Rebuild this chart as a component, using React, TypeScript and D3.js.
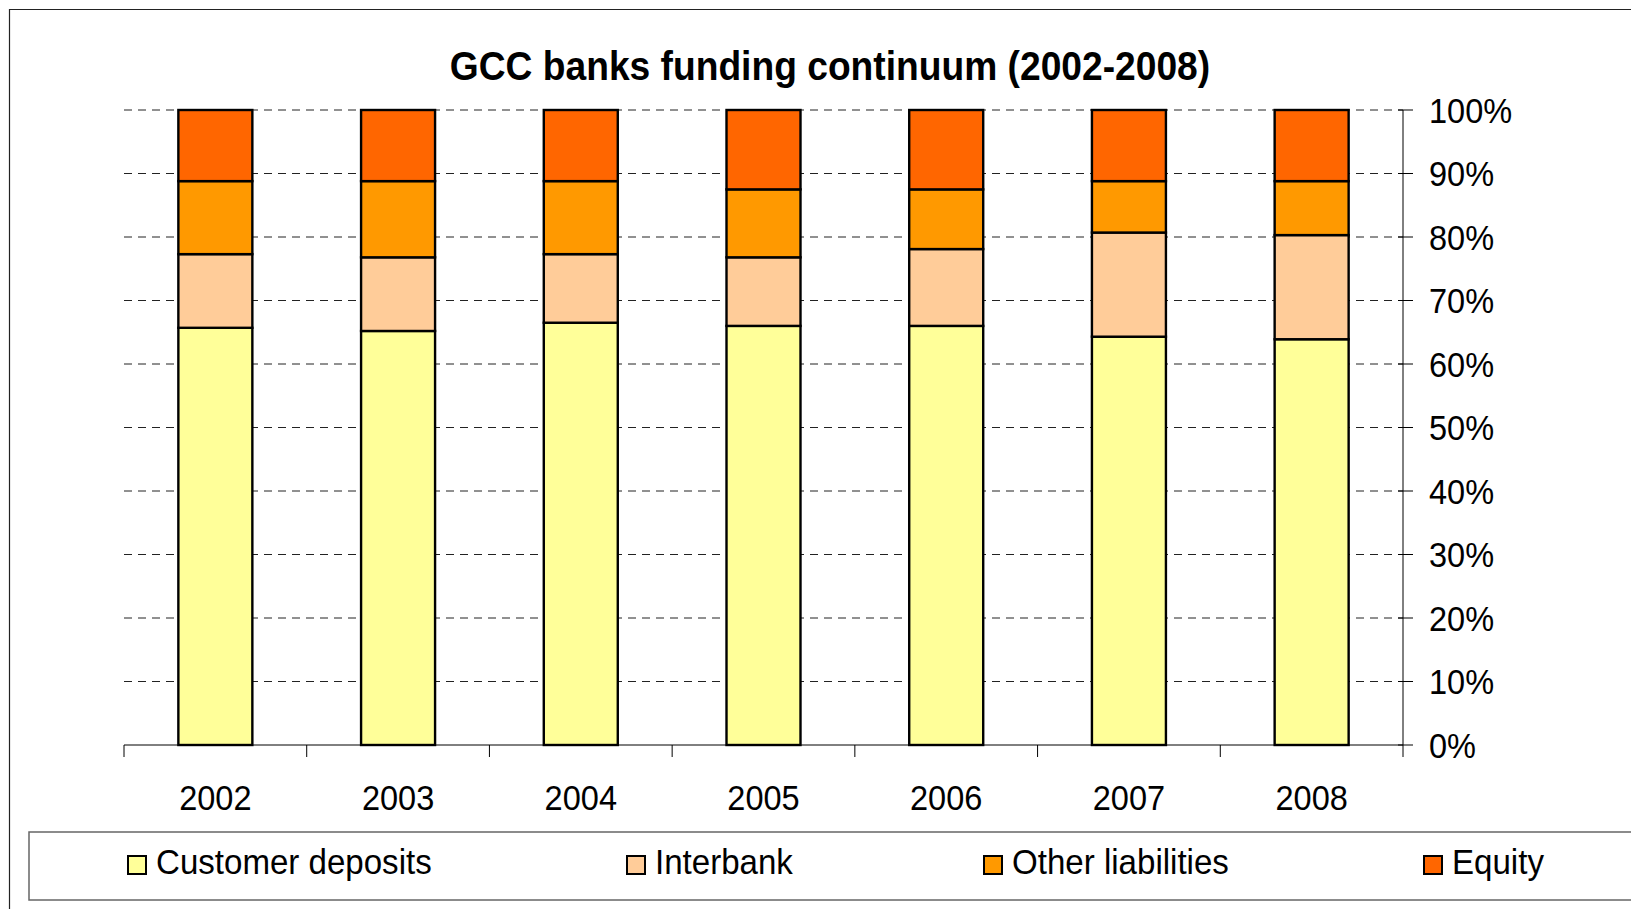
import React from "react";
import * as d3 from "d3";

const years = ["2002", "2003", "2004", "2005", "2006", "2007", "2008"];
const seriesNames = ["Customer deposits", "Interbank", "Other liabilities", "Equity"];
const customerDeposits = [65.7, 65.2, 66.5, 66.0, 66.0, 64.3, 63.9];
const interbank = [11.6, 11.6, 10.8, 10.8, 12.1, 16.4, 16.4];
const otherLiabilities = [11.5, 12.0, 11.5, 10.7, 9.4, 8.1, 8.5];
const equity = [11.2, 11.2, 11.2, 12.5, 12.5, 11.2, 11.2];
const yTicks = [0, 10, 20, 30, 40, 50, 60, 70, 80, 90, 100];
const colors = ["#FFFF99", "#FFCC99", "#FF9900", "#FF6600"];

const W = 1631;
const H = 909;
const plot = { left: 124, right: 1403, top: 110, bottom: 745 };
const legendX = [128, 627, 984, 1424];
const FONT = "'Liberation Sans', Arial, sans-serif";

function SText(props: { x: number; y: number; size: number; sx: number; anchor?: string; bold?: boolean; dy?: string; children: any }) {
  return (
    <text
      transform={`translate(${props.x},${props.y}) scale(${props.sx},1)`}
      textAnchor={props.anchor || "start"}
      fontSize={props.size}
      fontWeight={props.bold ? "bold" : "normal"}
      dy={props.dy}
      fill="#000"
    >
      {props.children}
    </text>
  );
}

export default function App() {
  const seriesValues = [customerDeposits, interbank, otherLiabilities, equity];
  const table = years.map((y, i) => {
    const row: any = { year: y };
    seriesNames.forEach((s, k) => (row[s] = seriesValues[k][i]));
    return row;
  });
  const stacked = d3.stack<any>().keys(seriesNames)(table);

  const x = d3.scaleBand().domain(years).range([plot.left, plot.right]).paddingInner(0.595).paddingOuter(0.2975);
  const xb = d3.scaleBand().domain(years).range([plot.left, plot.right]);
  const y = d3.scaleLinear().domain([0, 100]).range([plot.bottom, plot.top]);

  const boundaries = d3.range(years.length + 1).map((i) => plot.left + i * xb.step());

  return (
    <svg width={W} height={H} style={{ position: "absolute", left: 0, top: 0, background: "#fff" }} fontFamily={FONT}>
      <rect x={0} y={0} width={W} height={H} fill="#fff" />
      {/* outer chart border */}
      <path d={`M9.5,${H + 5} V9.5 H${W + 5}`} fill="none" stroke="#222" strokeWidth={1.2} />

      {/* title */}
      <SText x={830} y={80} size={40} sx={0.93} anchor="middle" bold>
        GCC banks funding continuum (2002-2008)
      </SText>

      {/* gridlines */}
      {yTicks.filter((t) => t > 0).map((t) => (
        <line key={t} x1={plot.left} x2={plot.right} y1={y(t)} y2={y(t)} stroke="#222" strokeWidth={1} strokeDasharray="8,6" />
      ))}

      {/* bars */}
      {stacked.map((layer, k) => (
        <g key={layer.key}>
          {layer.map((d, i) => (
            <rect
              key={i}
              x={x(years[i])}
              y={y(d[1])}
              width={x.bandwidth()}
              height={y(d[0]) - y(d[1])}
              fill={colors[k]}
              stroke="#000"
              strokeWidth={2.4}
            />
          ))}
        </g>
      ))}

      {/* x axis */}
      <line x1={plot.left} x2={plot.right} y1={plot.bottom} y2={plot.bottom} stroke="#000" strokeWidth={1} />
      {boundaries.map((bx, i) => (
        <line key={i} x1={bx} x2={bx} y1={plot.bottom} y2={plot.bottom + 12} stroke="#000" strokeWidth={1} />
      ))}
      {years.map((yr) => (
        <SText key={yr} x={(xb(yr) as number) + xb.bandwidth() / 2} y={810} size={35} sx={0.93} anchor="middle">
          {yr}
        </SText>
      ))}

      {/* y axis (right) */}
      <line x1={plot.right} x2={plot.right} y1={plot.top} y2={plot.bottom} stroke="#000" strokeWidth={1} />
      {yTicks.map((t) => (
        <g key={t}>
          <line x1={plot.right - 5} x2={plot.right + 10} y1={y(t)} y2={y(t)} stroke="#000" strokeWidth={1} />
          <SText x={1429} y={y(t)} size={35} sx={0.93} dy="0.36em">
            {t}%
          </SText>
        </g>
      ))}

      {/* legend */}
      <rect x={29} y={832} width={W + 20} height={68} fill="none" stroke="#666" strokeWidth={1.5} />
      {seriesNames.map((s, k) => (
        <g key={s}>
          <rect x={legendX[k]} y={856} width={18} height={18} fill={colors[k]} stroke="#000" strokeWidth={2} />
          <SText x={legendX[k] + 28} y={874} size={35} sx={0.945}>
            {s}
          </SText>
        </g>
      ))}
    </svg>
  );
}
